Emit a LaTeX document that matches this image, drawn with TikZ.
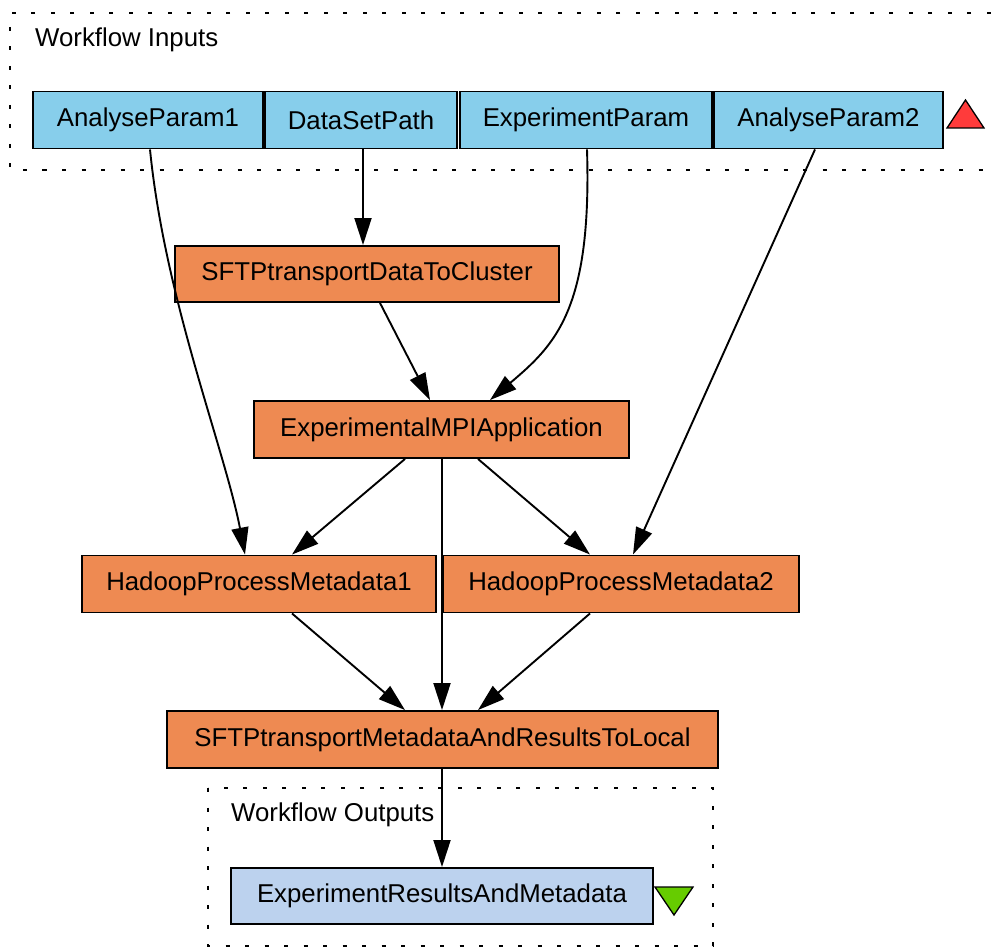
\documentclass[tikz,border=0pt]{standalone}
\usepackage{fontspec}
\setmainfont{Liberation Sans}
\usetikzlibrary{arrows.meta}
\definecolor{inblue}{HTML}{87CEEB}
\definecolor{procor}{HTML}{EE8A52}
\definecolor{outblue}{HTML}{BCD2EE}
\definecolor{trired}{HTML}{FF3B3B}
\definecolor{trigreen}{HTML}{66CC00}
\tikzset{
  box/.style={draw=black, line width=1.9pt, rectangle, inner sep=0pt, font=\fontsize{25.8}{30}\selectfont},
  inbox/.style={box, fill=inblue},
  procbox/.style={box, fill=procor},
  outbox/.style={box, fill=outblue},
  edge/.style={line width=1.9pt, -{Triangle[length=27pt,width=17pt]}},
  cluster/.style={line width=2pt, dash pattern=on 4pt off 15.5pt},
  lbl/.style={anchor=west, inner sep=0pt, font=\fontsize{25.8}{30}\selectfont},
}
\begin{document}
\begin{tikzpicture}[x=1pt,y=-1pt]
\useasboundingbox (0,0) rectangle (996,947);
% clusters
\draw[cluster] (1010,13) -- (10,13) -- (10,170) -- (1010,170);
\draw[cluster] (208,788) rectangle (713,946);
\node[lbl] (lin) at (35,40) {Workflow Inputs};
\node[lbl] (lout) at (231,815) {Workflow Outputs};
% inputs
\node[inbox, minimum width=230, minimum height=57] (ap1) at (148,120) {AnalyseParam1};
\node[inbox, minimum width=192, minimum height=57] (dsp) at (361,120) {DataSetPath};
\node[inbox, minimum width=252, minimum height=57] (ep) at (586,120) {ExperimentParam};
\node[inbox, minimum width=229, minimum height=57] (ap2) at (828.5,120) {AnalyseParam2};
% processors
\node[procbox, minimum width=384, minimum height=56] (s1) at (367,274) {SFTPtransportDataToCluster};
\node[procbox, minimum width=375, minimum height=57] (mpi) at (441.5,429.5) {ExperimentalMPIApplication};
\node[procbox, minimum width=354, minimum height=57] (h1) at (259,584) {HadoopProcessMetadata1};
\node[procbox, minimum width=356, minimum height=57] (h2) at (621,584) {HadoopProcessMetadata2};
\node[procbox, minimum width=551, minimum height=57] (s2) at (442.5,739.5) {SFTPtransportMetadataAndResultsToLocal};
% output
\node[outbox, minimum width=422, minimum height=56] (out) at (442,896) {ExperimentResultsAndMetadata};
% triangles
\fill[trired, draw=black, line width=1.3pt] (947,128) -- (984,128) -- (965.5,100) -- cycle;
\fill[trigreen, draw=black, line width=1.3pt] (655,887) -- (693,887) -- (674,915) -- cycle;
% edges
\draw[edge] ([xshift=2]ap1.south) .. controls (165,300) and (225,450) .. ([xshift=-14]h1.north);
\draw[edge] ([xshift=2]dsp.south) -- ([xshift=-4]s1.north);
\draw[edge] ([xshift=1]ep.south) .. controls (592,310) and (555,345) .. ([xshift=48.5]mpi.north);
\draw[edge] ([xshift=-13.5]ap2.south) -- ([xshift=12]h2.north);
\draw[edge] ([xshift=13]s1.south) -- ([xshift=-11.5]mpi.north);
\draw[edge] ([xshift=-36.5]mpi.south) -- ([xshift=33]h1.north);
\draw[edge] ([xshift=0.5]mpi.south) -- ([xshift=-0.5]s2.north);
\draw[edge] ([xshift=36.5]mpi.south) -- ([xshift=-31]h2.north);
\draw[edge] ([xshift=33]h1.south) -- ([xshift=-37.5]s2.north);
\draw[edge] ([xshift=-31]h2.south) -- ([xshift=35.5]s2.north);
\draw[edge] ([xshift=-0.5]s2.south) -- (out.north);
\end{tikzpicture}
\end{document}
